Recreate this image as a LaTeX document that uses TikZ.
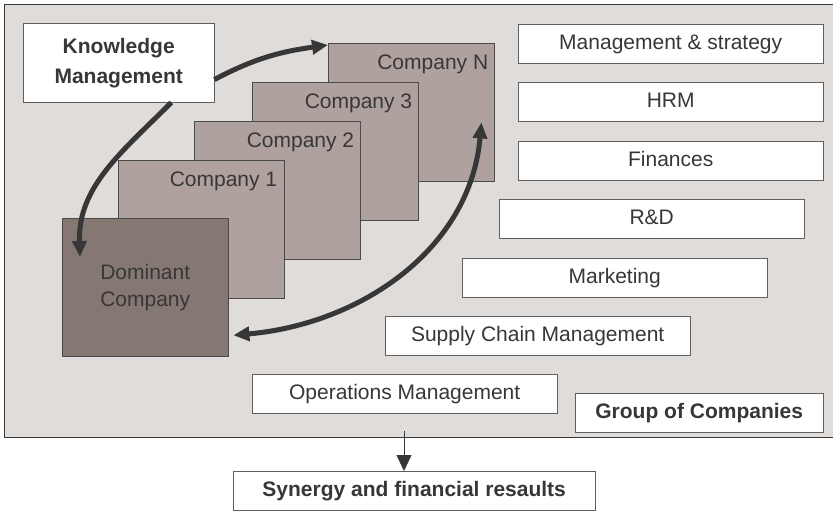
\documentclass[tikz,border=0pt]{standalone}
\usepackage{fontspec}
\setmainfont{Liberation Sans}
\usepackage{tikz}
\usetikzlibrary{arrows.meta,calc}

\definecolor{groupbg}{RGB}{224,220,218}
\definecolor{firmfill}{RGB}{175,162,158}
\definecolor{domfill}{RGB}{133,120,115}
\definecolor{inkgray}{RGB}{55,55,55}

\begin{document}
\begin{tikzpicture}[x=1pt,y=-1pt,
    every node/.style={font=\fontsize{21}{27}\selectfont,text=inkgray},
    area/.style={draw=inkgray!80,fill=white,anchor=north west,minimum width=305pt,minimum height=39pt,
        inner sep=0pt,text height=15pt,text depth=4pt},
    firm/.style={draw=inkgray!90,fill=firmfill,anchor=north west,minimum width=166pt,minimum height=138pt,inner sep=0pt},
    firmname/.style={anchor=base east,inner sep=0pt},
    bigarrow/.style={line width=5pt,draw=inkgray,>={Triangle[length=16pt,width=14pt]}}
]
    \clip (0,0) rectangle (833,514);
    \node[draw=inkgray,fill=groupbg,anchor=north west,minimum width=880pt,minimum height=433pt,inner sep=0pt] (grp) at (4,4) {};

    \node[firm] (cN) at (328,43) {};
    \node[firmname] at ([shift={(-6,26)}]cN.north east) {Company N};
    \node[firm] (c3) at (252,82) {};
    \node[firmname] at ([shift={(-6,26)}]c3.north east) {Company 3};
    \node[firm] (c2) at (194,121) {};
    \node[firmname] at ([shift={(-6,26)}]c2.north east) {Company 2};
    \node[firm] (c1) at (118,160) {};
    \node[firmname] at ([shift={(-7,26)}]c1.north east) {Company 1};
    \node[firm,fill=domfill,align=center] (dom) at (62,218) {Dominant\\Company};

    \node[draw=inkgray!80,fill=white,anchor=north west,minimum width=191pt,minimum height=79pt,inner sep=0pt,
        align=center,font=\bfseries\fontsize{21}{30}\selectfont] (km) at (23,23) {Knowledge\\Management};

    \draw[bigarrow,->] (km.-10) to[out=28,in=188] ([shift={(0,2)}]cN.north west);
    \draw[bigarrow,->] (km.-37) to[out=-135,in=92] ([shift={(18,39)}]dom.north west);
    \draw[bigarrow,<->] ([xshift=5pt]dom.-30) to[out=5,in=-95] ([shift={(-13,-59)}]cN.south east);

    \node[area] (mgmt) at (518,24) {Management \& strategy};
    \node[area] (hrm) at (518,82) {HRM};
    \node[area] (fin) at (518,141) {Finances};
    \node[area] (rd) at (499,199) {R\&D};
    \node[area] (mkt) at (462,258) {Marketing};
    \node[area] (scm) at (385,316) {Supply Chain Management};
    \node[area] (ops) at (252,374) {Operations Management};
    \node[area,minimum width=248pt,font=\bfseries\fontsize{21}{27}\selectfont] (gc) at (575,393) {Group of Companies};

    \node[area,minimum width=362pt,font=\bfseries\fontsize{21}{27}\selectfont] (syn) at (233,471) {Synergy and financial resaults};
    \coordinate (res) at (404,431);
    \draw[inkgray,-{Triangle[length=16pt,width=15pt]}] (res) -- (res |- syn.north);
\end{tikzpicture}
\end{document}
